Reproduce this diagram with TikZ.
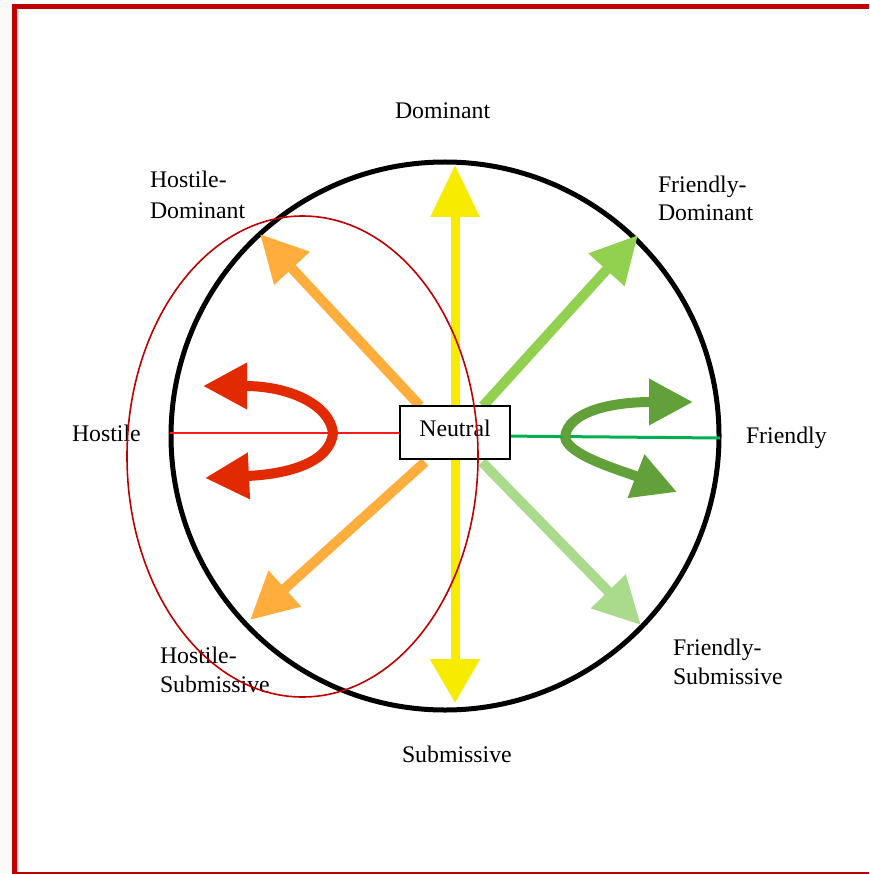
\documentclass[tikz,border=0pt]{standalone}
\usepackage{fontspec}
\setmainfont{Liberation Serif}
\usetikzlibrary{arrows.meta}
\definecolor{bordred}{HTML}{C00000}
\definecolor{yel}{HTML}{F7EC00}
\definecolor{orng}{HTML}{FFAE3D}
\definecolor{grne}{HTML}{92D050}
\definecolor{grse}{HTML}{AADB8C}
\definecolor{redc}{HTML}{E22A00}
\definecolor{grc}{HTML}{62A03A}
\definecolor{hostl}{HTML}{FF1A1A}
\definecolor{frl}{HTML}{00B050}
\definecolor{offw}{HTML}{FBFAF7}
\newcommand\mylblfont{\fontsize{23.8}{28}\selectfont}
\tikzset{
  lbl/.style={font=\mylblfont, anchor=base west, inner sep=0pt, outer sep=0pt},
  bigarrow/.style={line width=10pt, -{Triangle[length=47pt,width=46pt]}},
  curvarrow/.style={line width=10pt, -{Triangle[length=44pt,width=44pt]}},
}
\begin{document}
\begin{tikzpicture}[x=1pt,y=-1pt]
\useasboundingbox (0,0) rectangle (869,874);
\fill[white] (0,0) rectangle (869,874);
\fill[offw] (0,0) rectangle (12,874);
% frame
\draw[bordred, line width=5pt] (14.5,874) -- (14.5,6.5) -- (869,6.5);
\draw[gray!25, line width=1.5pt] (18,9) -- (18,872);
\draw[bordred, line width=1.5pt] (12,873) -- (869,873);
% circle
\coordinate (cc) at (445,436);
\draw[line width=5pt] (cc) circle [radius=274pt];
% end points on the circle
\coordinate (pN) at (455,165);
\coordinate (pS) at (455,703);
\coordinate (pNW) at (260,234);
\coordinate (pSW) at (250,620);
\coordinate (pNE) at (638,235);
\coordinate (pSE) at (641,625);
\coordinate (pW) at (170,433);
\coordinate (pE) at (720,438);
% start points inside the neutral box
\coordinate (sN) at (455,420);
\coordinate (sS) at (455,445);
\coordinate (sNW) at (420,406);
\coordinate (sSW) at (425,462);
\coordinate (sNE) at (483,406);
\coordinate (sSE) at (482,462);
\coordinate (sW) at (410,433);
\coordinate (sE) at (500,436);
% thin horizontal lines
\draw[hostl, line width=2.5pt] (sW) -- (pW);
\draw[frl, line width=3pt] (sE) -- (pE);
% straight arrows
\draw[yel, line width=9pt, -{Triangle[length=52pt,width=47pt]}] (sN) -- (pN);
\draw[yel, line width=9pt, -{Triangle[length=44pt,width=48pt]}] (sS) -- (pS);
\draw[orng, bigarrow] (sNW) -- (pNW);
\draw[orng, bigarrow] (sSW) -- (pSW);
\draw[grne, bigarrow] (sNE) -- (pNE);
\draw[grse, bigarrow] (sSE) -- (pSE);
% curved double arrows
\coordinate (hapex) at (333,433);
\coordinate (htipu) at (203,386);
\coordinate (htipd) at (205,478);
\draw[redc, curvarrow] (hapex) .. controls (330,405) and (290,386) .. (htipu);
\draw[redc, curvarrow] (hapex) .. controls (330,462) and (290,474) .. (htipd);
\coordinate (fapex) at (565,437);
\coordinate (ftipu) at (693,402);
\coordinate (ftipd) at (677,492);
\draw[grc, curvarrow] (fapex) .. controls (568,412) and (610,402) .. (ftipu);
\draw[grc, curvarrow] (fapex) .. controls (567,455) and (620,470) .. (ftipd);
% neutral box
\node[draw, line width=1.8pt, fill=white, minimum width=110pt, minimum height=53pt,
      inner sep=0pt, font=\mylblfont, text height=15.7pt, text depth=8.7pt]
      (neutral) at (455,432.5) {Neutral};
% labels
\node[lbl] (ldom) at (395,119) {Dominant};
\node[lbl] (lhd1) at (150,188) {Hostile-};
\node[lbl] (lhd2) at (150,219) {Dominant};
\node[lbl] (lfd1) at (658,193) {Friendly-};
\node[lbl] (lfd2) at (658,221) {Dominant};
\node[lbl] (lhos) at (72,441) {Hostile};
\node[lbl] (lfri) at (746,443) {Friendly};
\node[lbl] (lhs1) at (160,663) {Hostile-};
\node[lbl] (lhs2) at (160,692) {Submissive};
\node[lbl] (lfs1) at (673,655) {Friendly-};
\node[lbl] (lfs2) at (673,684) {Submissive};
\node[lbl] (lsub) at (402,762) {Submissive};
% red ellipse
\draw[bordred, line width=1.6pt] (302.5,456.5) ellipse [x radius=175.5pt, y radius=240.5pt];
\end{tikzpicture}
\end{document}
